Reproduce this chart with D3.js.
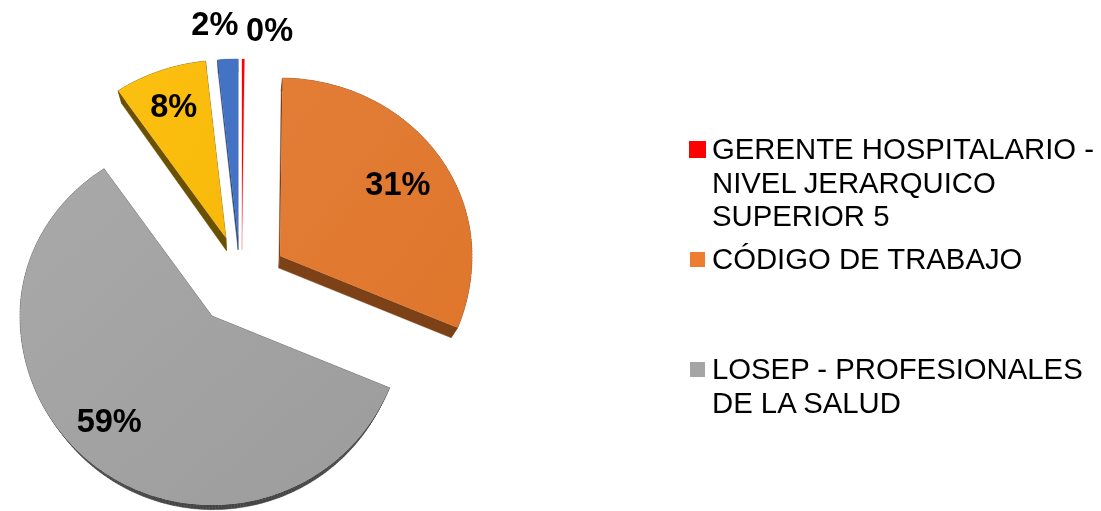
<!DOCTYPE html>
<html><head><meta charset="utf-8">
<script src="https://cdn.jsdelivr.net/npm/d3@7"></script>
<style>html,body{margin:0;background:#fff}svg{display:block;filter:blur(.45px)}text{font-family:"Liberation Sans",Arial,sans-serif;fill:#000}</style>
</head><body><svg id="c" width="1101" height="511"></svg>
<script>
// data
const values = [0.2, 31.0, 59.3, 7.8, 1.7];
const legendLines = [["GERENTE HOSPITALARIO -","NIVEL JERARQUICO","SUPERIOR 5"],["CÓDIGO DE TRABAJO"],["LOSEP - PROFESIONALES","DE LA SALUD"]];
const topColors = ["#FF0000","#E2782F","#A3A3A3","#FBBE0B","#4472C4"];
const sideColors = ["#F5B5B5","#7C4116","#444444","#6B5000","#2F4A78"];
const legendColors = ["#FF0000","#ED7D31","#A5A5A5"];

// layout
const W=1101,H=511, cx=243, cy=280, rx=192, ryTop=178, ryBottom=189;
const explodeX=[-1,37,-31,-17,-5], explodeY=[-43,-24,36,-42,-43];
const labelR=[1.17,.736,.77,.79,1.203], labelTurn=[6.7,0,5,0,-2.7];
const vanish=[240,660], depthK=.03, maxDepth=13;

const svg=d3.select("#c");
const defs=svg.append("defs");
const pie=d3.pie().sort(null).value(d=>d)(values);
const line=d3.line();
const proj=(a,r,ox,oy)=>{const s=Math.sin(a)*r,c=-Math.cos(a)*r;return [ox+s*rx, oy+c*(c<0?ryTop:ryBottom)];};
const lower=p=>[p[0]+(vanish[0]-p[0])*depthK, p[1]+Math.min(maxDepth,(vanish[1]-p[1])*depthK)];

[["g2","#A9A9A9","#9C9C9C"],["g1","#E37D36","#DF762C"],["g3","#FCC010","#F8BA0A"]].forEach(g=>{
 const l=defs.append("linearGradient").attr("id",g[0]).attr("x1",0).attr("y1",0).attr("x2",1).attr("y2",1);
 l.append("stop").attr("offset",0).attr("stop-color",g[1]);l.append("stop").attr("offset",1).attr("stop-color",g[2]);
});
const topFill=i=>i===1?"url(#g1)":i===2?"url(#g2)":i===3?"url(#g3)":topColors[i];

const order=[2,3,4,0,1];
order.forEach(i=>{
 const d=pie[i], ox=cx+explodeX[i], oy=cy+explodeY[i];
 const n=Math.max(4,Math.ceil((d.endAngle-d.startAngle)*60));
 const arc=d3.range(n+1).map(k=>proj(d.startAngle+(d.endAngle-d.startAngle)*k/n,1,ox,oy));
 const ring=[[ox,oy],...arc];
 const g=svg.append("g");
 ring.forEach((p,k)=>{const q=ring[(k+1)%ring.length];
  g.append("path").attr("d",line([p,q,lower(q),lower(p)])+"Z").attr("fill",sideColors[i]).attr("stroke",sideColors[i]).attr("stroke-width",.4);
 });
 g.append("path").attr("d",line(ring)+"Z").attr("fill",topFill(i));
});

pie.forEach((d,i)=>{
 const a=(d.startAngle+d.endAngle)/2+labelTurn[i]*Math.PI/180;
 const p=proj(a,labelR[i],cx+explodeX[i],cy+explodeY[i]);
 svg.append("text").attr("x",p[0]).attr("y",p[1]).attr("text-anchor","middle").attr("dominant-baseline","central")
  .attr("font-size",32.5).attr("font-weight","bold").text(Math.round(d.data)+"%");
});

const legendBaselines=[[159,192.5,226],[269],[378.5,412.5]];
const swatchY=[141,252,362], swatchS=[17,15,15], swatchX=[689,690,690];
legendLines.forEach((ls,i)=>{
 svg.append("rect").attr("x",swatchX[i]).attr("y",swatchY[i]).attr("width",swatchS[i]).attr("height",swatchS[i]).attr("fill",legendColors[i]);
 ls.forEach((t,j)=>svg.append("text").attr("x",712).attr("y",legendBaselines[i][j]).attr("font-size",29.3).text(t));
});
</script></body></html>
